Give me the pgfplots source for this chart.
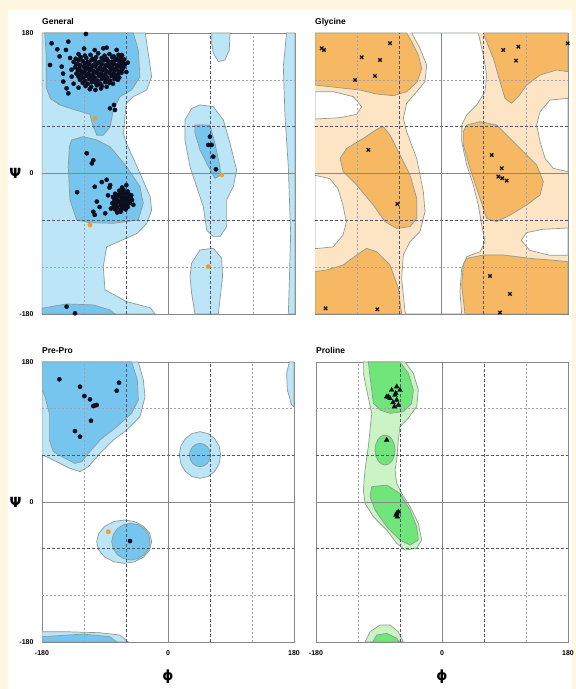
\documentclass[border=0pt]{standalone}
\usepackage{fontspec}
\setmainfont{Liberation Sans}
\newfontfamily\dejavu{DejaVu Sans}
\usepackage{pgfplots}
\pgfplotsset{compat=1.18}
\definecolor{cream}{RGB}{255,247,224}
\definecolor{bluelight}{RGB}{188,229,248}
\definecolor{bluemed}{RGB}{118,197,238}
\definecolor{peach}{RGB}{252,228,196}
\definecolor{orangemed}{RGB}{247,184,100}
\definecolor{greenlight}{RGB}{202,244,196}
\definecolor{greenmed}{RGB}{112,230,122}
\definecolor{outl}{RGB}{140,156,146}
\definecolor{framegray}{RGB}{135,135,135}
\definecolor{outlier}{RGB}{240,160,40}
\definecolor{dotc}{RGB}{12,14,30}
\tikzset{
  gsolid/.style={draw=framegray, line width=0.8pt},
  gdark/.style={draw={rgb,255:red,85;green,85;blue,105}, line width=0.9pt, dash pattern=on 3pt off 2pt},
  glight/.style={draw={rgb,255:red,165;green,160;blue,175}, line width=0.6pt, dash pattern=on 2pt off 2pt},
  reg/.style={draw=outl, line width=0.7pt}
}
\newcommand{\ramagrid}{%
  \draw[glight] (axis cs:-120,-180) -- (axis cs:-120,180);
  \draw[glight] (axis cs:120,-180) -- (axis cs:120,180);
  \draw[glight] (axis cs:-180,120) -- (axis cs:180,120);
  \draw[glight] (axis cs:-180,-120) -- (axis cs:180,-120);
  \draw[gdark] (axis cs:-60,-180) -- (axis cs:-60,180);
  \draw[gdark] (axis cs:60,-180) -- (axis cs:60,180);
  \draw[gdark] (axis cs:-180,60) -- (axis cs:180,60);
  \draw[gdark] (axis cs:-180,-60) -- (axis cs:180,-60);
  \draw[gsolid] (axis cs:0,-180) -- (axis cs:0,180);
  \draw[gsolid] (axis cs:-180,0) -- (axis cs:180,0);
}
\pgfplotsset{
  rama/.style={scale only axis, width=253pt, height=281pt,
    xmin=-180, xmax=180, ymin=-180, ymax=180,
    xtick=\empty, ytick=\empty, major tick length=0pt,
    axis line style={draw=framegray, line width=0.9pt},
    clip mode=individual,
    title style={at={(0,1)}, anchor=base west, yshift=2pt, inner sep=0pt,
      font=\fontsize{8.5}{9}\selectfont\bfseries}},
  leftax/.style={ytick={-180,0,180}, yticklabels={-180,0,180},
    yticklabel style={font=\fontsize{7}{7}\selectfont\bfseries, xshift=-5pt},
    ylabel={\dejavu\bfseries Ψ},
    ylabel style={rotate=-90, at={(axis description cs:-0.105,0.5)}, anchor=center,
      font=\fontsize{14}{14}\selectfont}},
  bottomax/.style={xtick={-180,0,180}, xticklabels={-180,0,180},
    xticklabel style={font=\fontsize{7}{7}\selectfont\bfseries, yshift=-5pt},
    xlabel={\dejavu\bfseries ϕ},
    xlabel style={at={(axis description cs:0.5,-0.123)}, anchor=center,
      font=\fontsize{14}{14}\selectfont}},
  dots/.style={only marks, mark=*, mark size=2.1pt, color=dotc},
  odots/.style={only marks, mark=*, mark size=2.2pt, color=outlier}
}
\begin{document}
\begin{tikzpicture}
\fill[cream] (0,0) rectangle (576pt,689pt);
\fill[white] (8pt,0pt) rectangle (572pt,679pt);

% ---------------- General ----------------
\begin{axis}[rama, leftax, title={General}, at={(42pt,656pt)}, anchor=north west]
\addplot[reg, fill=bluelight] coordinates {(-180,180)(-33,180)(-24,124)(-31,107)(-50,98.5)(-60,90)(-62,73)(-64,51)(-60,39)(-40.6,0.3)(-26,-30)(-24,-47)(-31,-64)(-45,-77)(-65,-85)(-88,-94)(-92.8,-119)(-90.4,-149)(-60,-164)(-26,-172)(-19,-180)(-180,-180)} -- cycle;
\addplot[reg, fill=bluelight] coordinates {(44.8,87.8)(63.8,85.7)(78,68.6)(87.5,38.7)(96.9,4.5)(92.2,-16.8)(82.7,-33.9)(82.7,-68)(73.2,-80.9)(63.8,-80.9)(54.3,-72.3)(49.5,-42.4)(40,-16.8)(30.6,8.8)(23.4,43)(23.4,68.6)(33,83.5)} -- cycle;
\addplot[reg, fill=bluelight] coordinates {(32.9,-115)(44.8,-98)(63.8,-95.8)(75.6,-108.6)(77,-132)(73.2,-162)(70.9,-180)(37.7,-180)(32.9,-153.5)(30.6,-132)} -- cycle;
\addplot[reg, fill=bluelight] coordinates {(61.4,180)(87.5,180)(86.5,158.3)(80.4,145.4)(70.9,143.3)(63.8,154)(61.4,166.8)} -- cycle;
\addplot[reg, fill=bluelight] coordinates {(180,180)(168,180)(163.4,137)(165.8,72.9)(170.5,8.8)(173.8,-76.6)(171.9,-140.6)(170.5,-180)(180,-180)} -- cycle;
\addplot[reg, fill=bluemed] coordinates {(-176,180)(-50,180)(-43,158)(-40.6,124)(-52.5,107)(-69,98.5)(-78.5,81)(-83,60)(-93,49)(-102,49)(-107,60)(-112,76)(-135,82)(-155,88)(-168,96)(-174,110)(-174,150)} -- cycle;
\addplot[reg, fill=bluemed] coordinates {(-137.8,43)(-121.2,47.2)(-102.3,43)(-83.3,34.4)(-59.6,8.8)(-40.6,-16.8)(-35.9,-38.2)(-43,-59.5)(-78.5,-63.8)(-111.7,-63)(-130.7,-59.5)(-140.2,-33.9)(-142.6,8.8)(-141.1,34.4)} -- cycle;
\addplot[reg, fill=bluemed] coordinates {(37.7,62.2)(59,62.2)(66.1,38.7)(73.2,8.8)(74.2,-1.9)(66.1,-6.2)(54.3,13.1)(44.8,30.2)(37.7,51.5)} -- cycle;
\addplot[reg, fill=bluemed] coordinates {(-180,-172.7)(-145,-167.1)(-107,-168.4)(-83.3,-174.8)(-76.2,-180)(-180,-180)} -- cycle;
\ramagrid
\addplot[dots] coordinates {
(-128,153)(-119,151)(-111,152)(-100,154)(-91,151)(-84,153)(-78,150)(-71,152)(-66,151)
(-132,147)(-125,149)(-117,148)(-108,147)(-103,149)(-95,148)(-88,147)(-80,149)(-74,147)(-68,148)(-63,146)
(-135,143)(-128,145)(-122,144)(-115,143)(-110,145)(-104,144)(-98,143)(-92,145)(-86,144)(-81,143)(-76,145)(-70,144)(-65,143)
(-131,140)(-126,139)(-119,141)(-113,140)(-107,139)(-101,141)(-95,140)(-89,139)(-83,141)(-78,140)(-73,139)(-67,141)(-62,140)
(-133,136)(-127,135)(-121,137)(-116,136)(-110,135)(-104,137)(-97,136)(-91,135)(-85,137)(-80,136)(-74,135)(-69,137)(-64,136)
(-129,132)(-124,131)(-118,133)(-112,132)(-106,131)(-100,133)(-94,132)(-88,131)(-82,133)(-77,132)(-71,131)(-66,133)
(-131,128)(-125,127)(-120,129)(-114,128)(-108,127)(-102,129)(-96,128)(-90,127)(-84,129)(-78,128)(-72,127)(-67,129)
(-128,124)(-122,123)(-117,125)(-111,124)(-105,123)(-99,125)(-93,124)(-87,123)(-81,125)(-75,124)(-70,123)
(-126,120)(-119,119)(-113,121)(-107,120)(-101,119)(-95,121)(-89,120)(-83,119)(-77,121)(-72,120)
(-122,116)(-115,115)(-109,117)(-103,116)(-97,115)(-90,117)(-84,116)(-79,115)
(-118,112)(-110,111)(-102,113)(-95,112)(-88,111)
(-112,108)(-104,107)(-96,109)
(-166.3,166.8)(-158.2,159.1)(-168.6,139)(-152,136.9)(-149.7,117.7)(-142.6,102.7)(-145,109.1)(-137.8,124.1)(-145.9,158.3)(-142.6,168.9)(-117.5,178.7)(-92.8,160.4)(-88,161.2)(-73.8,158.3)(-66.7,151.8)(-83.3,83.5)(-77.6,87.8)(-76.2,81.4)(-140,148)(-138,133)(-150,128)(-155,150)(-120,160)(-105,158)(-135,115)(-128,110)(-60,130)(-58,142)
(-70,-22)(-64,-21)(-58,-23)
(-76,-26)(-71,-27)(-66,-25)(-61,-26)(-56,-27)
(-79,-30)(-74,-31)(-69,-29)(-64,-30)(-59,-31)(-54,-30)
(-77,-34)(-72,-35)(-67,-33)(-62,-34)(-57,-35)(-52,-34)
(-80,-38)(-75,-39)(-70,-37)(-65,-38)(-60,-39)(-55,-38)
(-78,-42)(-73,-43)(-68,-41)(-63,-42)(-58,-43)
(-76,-46)(-71,-47)(-66,-45)(-61,-46)
(-73,-50)(-68,-49)
(-84,-18)(-86,-28)(-82,-45)(-50,-40)(-53,-28)(-60,-15)(-66,-18)
(-116.4,25.9)(-109,13)(-107,17)(-130,-24)
(-105,-17)(-95,-11)(-88,-8)(-83,-15)
(-102,-36)(-98,-43)(-107,-49)(-105,-53)(-90,-51)
(59,47.2)(56.6,36.6)(61.4,36.6)(63.7,21.6)(67.5,5.4)
(-145,-170.5)(-133,-179)
};
\addplot[odots] coordinates {(75.6,-1.9)(56.6,-119.3)(-104.6,70.7)(-111.7,-65.9)};
\end{axis}

% ---------------- Glycine ----------------
\begin{axis}[rama, title={Glycine}, at={(315pt,656pt)}, anchor=north west]
\addplot[draw=none, fill=peach] coordinates {(-180,-180)(180,-180)(180,180)(-180,180)} -- cycle;
\addplot[reg, fill=white] coordinates {(-42.4,180)(-30.6,160.3)(-21.1,139)(-23.5,117.6)(-35.3,104.8)(-49.6,89.9)(-54.3,70.6)(-49.6,53.6)(-35.3,19.4)(-25.8,-23.3)(-23.5,-48.9)(-30.6,-74.5)(-44.8,-87.4)(-54.3,-104.4)(-56.7,-134.3)(-51.9,-177)(-51,-180)(28.7,-180)(26.3,-151.4)(28.7,-121.5)(35.8,-106.6)(54.8,-100.2)(61.9,-87.4)(57.2,-66)(52.4,-40.4)(45.3,-14.8)(35.8,10.9)(28.7,40.8)(28.7,62.1)(35.8,74.9)(50,87.7)(61.9,104.8)(64.3,126.2)(59.5,151.8)(52.4,180)} -- cycle;
\addplot[reg, fill=white] coordinates {(-180,104.8)(-153.9,104.8)(-125.4,98.4)(-113.6,85.6)(-120.7,75.8)(-144.4,71.5)(-180,69.8)} -- cycle;
\addplot[reg, fill=white] coordinates {(180,-104.8)(153.9,-104.8)(125.4,-98.4)(113.6,-85.6)(120.7,-75.8)(144.4,-71.5)(180,-69.8)} -- cycle;
\addplot[reg, fill=white] coordinates {(180,96.3)(154.4,94.1)(140.2,79.2)(135.4,62.1)(140.2,40.8)(147.3,19.4)(159.1,6.6)(180,2.3)} -- cycle;
\addplot[reg, fill=white] coordinates {(-180,-96.3)(-154.4,-94.1)(-140.2,-79.2)(-135.4,-62.1)(-140.2,-40.8)(-147.3,-19.4)(-159.1,-6.6)(-180,-2.3)} -- cycle;
\addplot[reg, fill=orangemed] coordinates {(-180,180)(-49.6,180)(-42.4,168.9)(-33,151.8)(-28.2,134.7)(-34.4,117.6)(-49.6,104.8)(-68.5,99.7)(-92.2,101.8)(-116,106.9)(-158.6,111.2)(-180,113.3)} -- cycle;
\addplot[reg, fill=orangemed] coordinates {(-89.9,57.8)(-82.8,60)(-73.3,49.3)(-59,23.7)(-44.8,-1.9)(-35.3,-31.8)(-35.3,-57.5)(-44.8,-68.1)(-63.8,-70.3)(-80.4,-61.7)(-97,-40.4)(-120.7,-14.8)(-139.7,2.3)(-144.4,19.4)(-134.9,32.2)(-111.2,45)(-97,53.6)} -- cycle;
\addplot[reg, fill=orangemed] coordinates {(-180,-180)(-56.7,-180)(-61.4,-147.1)(-73.3,-117.2)(-92.2,-100.2)(-106.5,-95.9)(-120.7,-104.4)(-139.7,-117.2)(-163.4,-123.6)(-180,-125.8)} -- cycle;
\addplot[reg, fill=orangemed] coordinates {(59.5,180)(180,180)(180,130.4)(163.9,132.6)(140.2,126.2)(121.2,113.3)(109.3,98.4)(99.8,89.9)(90.4,96.3)(83.2,117.6)(73.8,147.5)(64.3,168.9)} -- cycle;
\addplot[reg, fill=orangemed] coordinates {(35.8,62.1)(54.8,66.4)(78.5,62.1)(107,36.5)(135.4,10.9)(144.9,-10.5)(140.2,-27.6)(121.2,-40.4)(97.5,-53.2)(78.5,-61.7)(64.3,-57.5)(54.8,-31.8)(40.6,6.6)(31.1,36.5)(31.1,53.6)} -- cycle;
\addplot[reg, fill=orangemed] coordinates {(35.8,-108.7)(59.5,-104.4)(88,-104.4)(125.9,-108.7)(154.4,-110.8)(180,-113)(180,-180)(33.4,-180)(28.7,-142.9)(31,-117)} -- cycle;
\ramagrid
\addplot[only marks, mark=x, mark size=2.4pt, line width=1.2pt, color=dotc] coordinates {
(-170.5,160.4)(-167.2,158.2)(-73.3,166.8)(-113.6,148.9)(-87.5,145.4)(-123.1,119.8)(-94.7,125)(-104.1,30.2)(-62.9,-39)
(87.9,158.3)(109.3,162.5)(106,144.6)(179.5,166.8)(71.4,23.7)(85.6,6.7)(80.8,-4)(86.5,-6.1)(92.7,-9.1)
(69,-131.3)(97.4,-154.3)(83.2,-178.2)(-164.9,-172.7)(-91.3,-174)
};
\end{axis}

% ---------------- Pre-Pro ----------------
\begin{axis}[rama, leftax, bottomax, width=252pt, height=280pt, title={Pre-Pro}, at={(42pt,327pt)}, anchor=north west]
\addplot[reg, fill=bluelight] coordinates {(-180,180)(-42.4,180)(-35.2,156.8)(-32.9,135.4)(-40,109.7)(-59,92.5)(-78.1,79.7)(-97.1,62.5)(-113.8,45.4)(-125.7,39)(-140,43.2)(-159,51.8)(-173.3,58.2)(-180,60.4)} -- cycle;
\addplot[reg, fill=bluelight] coordinates {(75.2,60.4)(73,71.9)(66.6,81.6)(57,88.1)(45.7,90.4)(34.4,88.1)(24.8,81.6)(18.4,71.9)(16.2,60.4)(18.4,48.9)(24.8,39.2)(34.4,32.7)(45.7,30.4)(57,32.7)(66.6,39.2)(73,48.9)} -- cycle;
\addplot[reg, fill=bluelight] coordinates {(-23.3,-51)(-26.3,-40.3)(-34.8,-31.3)(-47.6,-25.2)(-62.6,-23.1)(-77.6,-25.2)(-90.4,-31.3)(-98.9,-40.3)(-101.9,-51)(-98.9,-61.7)(-90.4,-70.7)(-77.6,-76.8)(-62.6,-78.9)(-47.6,-76.8)(-34.8,-70.7)(-26.3,-61.7)} -- cycle;
\addplot[reg, fill=bluelight] coordinates {(-180,-166.8)(-144.8,-166.8)(-97.1,-168.1)(-68.6,-171.1)(-56.7,-180)(-180,-180)} -- cycle;
\addplot[reg, fill=bluelight] coordinates {(180,180)(173.3,180)(169.5,165.4)(170.5,144)(176.7,124.7)(180,122.5)} -- cycle;
\addplot[reg, fill=bluemed] coordinates {(-180,180)(-51.9,180)(-43.8,156.8)(-42.4,131.1)(-51.9,114)(-73.3,96.8)(-97.1,79.7)(-113.8,62.5)(-123.3,51.8)(-132.9,49.7)(-147.1,56.1)(-163.8,64.7)(-169.5,79.7)(-169.5,114)(-175.7,135.4)(-180,144)} -- cycle;
\addplot[reg, fill=bluemed] coordinates {(60.7,60.4)(59.6,66.1)(56.3,71)(51.4,74.3)(45.7,75.4)(40,74.3)(35.1,71)(31.8,66.1)(30.7,60.4)(31.8,54.7)(35.1,49.8)(40,46.5)(45.7,45.4)(51.4,46.5)(56.3,49.8)(59.6,54.7)} -- cycle;
\addplot[reg, fill=bluemed] coordinates {(-25.6,-51)(-27.7,-42)(-33.6,-34.3)(-42.5,-29.2)(-53,-27.4)(-63.5,-29.2)(-72.4,-34.3)(-78.3,-42)(-80.4,-51)(-78.3,-60)(-72.4,-67.7)(-63.5,-72.8)(-53,-74.6)(-42.5,-72.8)(-33.6,-67.7)(-27.7,-60)} -- cycle;
\addplot[reg, fill=bluemed] coordinates {(-180,-173.2)(-121,-169.8)(-82.9,-173.2)(-73.3,-180)(-180,-180)} -- cycle;
\ramagrid
\addplot[dots] coordinates {(-155.2,157.7)(-125.7,148.2)(-119.5,136.2)(-111.4,132)(-106.7,123.4)(-104.3,124.2)(-101.9,124.7)(-110,104.5)(-132.9,91.2)(-125.7,84)(-70,153.4)(-73.3,143.1)(-54.3,-50.2)};
\addplot[odots] coordinates {(-85.2,-38.2)};
\end{axis}

% ---------------- Proline ----------------
\begin{axis}[rama, bottomax, width=252pt, height=280pt, title={Proline}, at={(316pt,327pt)}, anchor=north west]
\addplot[reg, fill=greenlight] coordinates {(-112.3,180)(-52.8,180)(-40.9,165.4)(-33.8,144)(-36.2,122.5)(-50.4,105.4)(-60,96.8)(-62.4,79.7)(-64.7,54)(-67.1,41.1)(-64.7,24)(-57.6,11.1)(-45.7,-6)(-33.8,-27.5)(-29,-48.9)(-36.2,-59.6)(-52.8,-61.8)(-64.7,-53.2)(-79,-36)(-98,-18.9)(-110,-1.8)(-112.3,15.4)(-110,41.1)(-105.2,71.1)(-102.8,92.5)(-100.4,114)(-107.6,144)(-112.3,165.4)} -- cycle;
\addplot[reg, fill=greenlight] coordinates {(-110,-180)(-102.8,-166.8)(-88.5,-158.2)(-74.2,-158.2)(-62.4,-166.8)(-55.2,-180)} -- cycle;
\addplot[reg, fill=greenmed] coordinates {(-105.2,180)(-60,180)(-48,165.4)(-40.9,144)(-43.3,126.8)(-55.2,116.1)(-74.2,114)(-88.5,118.2)(-98,126.8)(-100.4,144)(-102.8,161.1)} -- cycle;
\addplot[reg, fill=greenmed] coordinates {(-67.1,66.8)(-68.2,74.2)(-71.3,80.4)(-75.9,84.6)(-81.4,86.1)(-86.9,84.6)(-91.5,80.4)(-94.6,74.2)(-95.7,66.8)(-94.6,59.4)(-91.5,53.2)(-86.9,49)(-81.4,47.5)(-75.9,49)(-71.3,53.2)(-68.2,59.4)} -- cycle;
\addplot[reg, fill=greenmed] coordinates {(-100.4,19.7)(-79,21.8)(-60,11.1)(-45.7,-10.3)(-36.2,-31.8)(-33.8,-48.9)(-45.7,-55.3)(-60,-48.9)(-79,-31.8)(-95.7,-10.3)(-102.8,6.8)} -- cycle;
\addplot[reg, fill=greenmed] coordinates {(-99,-180)(-93.3,-171)(-79,-168.9)(-64.7,-175.3)(-60,-180)} -- cycle;
\ramagrid
\addplot[only marks, mark=triangle*, mark size=2.8pt, color=dotc] coordinates {
(-76.6,135.4)(-71.9,143.9)(-64.7,148.2)(-60,143.9)(-67.1,137.5)(-64.7,131.1)(-62.3,124.7)(-74.2,133.2)(-79,135.4)(-68,122.5)(-66,140)(-70,128)
(-79,79.7)
(-64.7,-14.6)(-62.3,-12.5)(-65.7,-16.8)(-63.8,-18.9)
};
\end{axis}
\pgfresetboundingbox
\useasboundingbox (0,0) rectangle (576pt,689pt);
\end{tikzpicture}
\end{document}
